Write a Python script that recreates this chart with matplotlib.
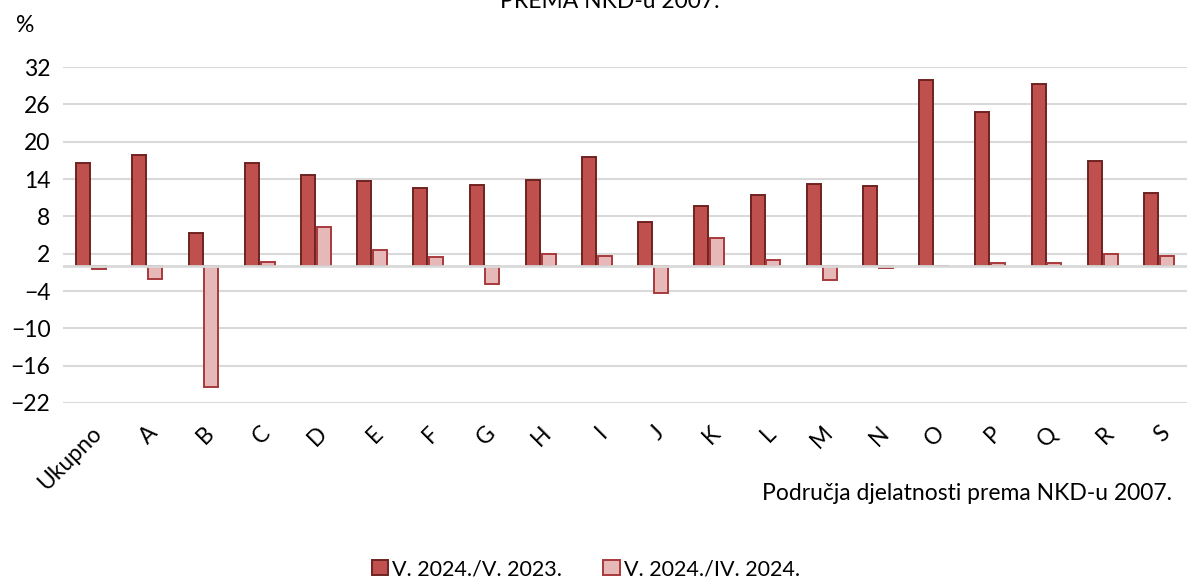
import numpy as np
import matplotlib.pyplot as plt
from matplotlib.patches import Patch

categories = ["Ukupno", "A", "B", "C", "D", "E", "F", "G", "H", "I",
              "J", "K", "L", "M", "N", "O", "P", "Q", "R", "S"]
yoy = [16.5, 17.9, 5.4, 16.5, 14.6, 13.6, 12.6, 13.1, 13.9, 17.5,
       7.1, 9.6, 11.4, 13.2, 12.8, 29.9, 24.7, 29.2, 16.9, 11.8]
mom = [-0.5, -2.0, -19.4, 0.7, 6.3, 2.6, 1.5, -2.9, 1.9, 1.7,
       -4.4, 4.5, 1.0, -2.2, -0.3, 0.0, 0.5, 0.5, 1.9, 1.6]
series_names = ["V. 2024./V. 2023.", "V. 2024./IV. 2024."]
yticks = [-22, -16, -10, -4, 2, 8, 14, 20, 26, 32]

plt.rcParams['font.family'] = ['Lato', 'DejaVu Sans']
fs = 16.5

fig = plt.figure(figsize=(11.87, 5.81), dpi=100)
ax = fig.add_axes([63 / 1187, 1 - 403 / 581, 1124 / 1187, 336 / 581])

x = np.arange(len(categories))
w = 0.25
off = 0.14
dark, dark_edge = "#C0504D", "#6E2220"
light, light_edge = "#E6B9B8", "#A8393B"

ax.bar(x - off, yoy, w, color=dark, edgecolor=dark_edge, linewidth=1.4, zorder=3)
ax.bar(x + off, mom, w, color=light, edgecolor=light_edge, linewidth=1.4, zorder=3)

ax.set_xlim(-0.5, len(categories) - 0.5)
ax.set_ylim(-22, 32)
ax.set_yticks(yticks)
ax.yaxis.grid(True, color="#D9D9D9", linewidth=1.5, zorder=0)
ax.axhline(0, color="#D9D9D9", linewidth=2, zorder=4)
ax.set_axisbelow(True)
for s in ax.spines.values():
    s.set_visible(False)
ax.tick_params(axis="both", length=0, labelsize=fs, colors="black")
ax.tick_params(axis="y", pad=9)
ax.set_xticks(x)
ax.set_xticklabels(categories, rotation=45, ha="right", va="top",
                   rotation_mode="anchor")
ax.tick_params(axis="x", pad=14)

fig.text(16 / 1187, 1 - 26 / 581, "%", fontsize=fs, va="center", ha="left")
# title is cut off at the top edge in the original as well
fig.text(610 / 1187, 1 - 8 / 581, "PREMA NKD-u 2007.", fontsize=fs,
         ha="center", va="baseline")
fig.text(1172 / 1187, 1 - 493 / 581, "Područja djelatnosti prema NKD-u 2007.",
         fontsize=fs, ha="right", va="center")

handles = [Patch(facecolor=dark, edgecolor=dark_edge, linewidth=1.4),
           Patch(facecolor=light, edgecolor=light_edge, linewidth=1.4)]
fig.legend(handles, series_names, loc="center", bbox_to_anchor=(586 / 1187, 1 - 569 / 581),
           ncol=2, frameon=False, fontsize=15.5, handlelength=0.75, handleheight=0.75,
           handletextpad=0.2, columnspacing=1.9)

fig.savefig("out.png", dpi=100)
